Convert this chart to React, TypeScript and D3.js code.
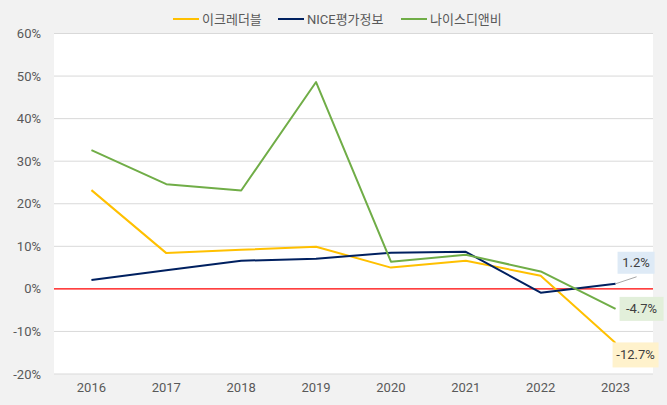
import React from 'react';
import * as d3 from 'd3';

// data
const years = ['2016', '2017', '2018', '2019', '2020', '2021', '2022', '2023'];
const ecredible = [23.2, 8.4, 9.2, 9.9, 5.0, 6.6, 3.1, -12.7];
const niceInfo = [2.1, 4.4, 6.6, 7.1, 8.5, 8.7, -0.9, 1.2];
const niceDnb = [32.6, 24.6, 23.1, 48.6, 6.4, 8.0, 4.1, -4.7];
const yTicks = [-20, -10, 0, 10, 20, 30, 40, 50, 60];

const series = [
  { name: '이크레더블', values: ecredible, color: '#FFC000', box: '#FFF2CC' },
  { name: 'NICE평가정보', values: niceInfo, color: '#002060', box: '#DEEAF6' },
  { name: '나이스디앤비', values: niceDnb, color: '#70AD47', box: '#E2EFDA' },
];

const W = 667;
const H = 405;
const margin = { left: 54, right: 14, top: 33.5, bottom: 31 };
const font = "Roboto, 'Noto Sans CJK KR', sans-serif";

const App = () => {
  const x = d3.scaleBand().domain(years).range([margin.left, W - margin.right]);
  const y = d3.scaleLinear().domain([-20, 60]).range([H - margin.bottom, margin.top]);
  const cx = (yr: string) => (x(yr) || 0) + x.bandwidth() / 2;

  const line = d3.line<number>()
    .x((d, i) => cx(years[i]))
    .y(d => y(d));

  const last = years[years.length - 1];
  const lastX = cx(last);

  // label boxes at the end of each line (offsets by hand)
  const labels = [
    { s: series[0], dx: -3, dy: 12, w: 46, h: 25 },
    { s: series[1], dx: 2, dy: -21, w: 37, h: 22, leader: true },
    { s: series[2], dx: 4, dy: 0, w: 44, h: 24 },
  ];

  return (
    <svg width={W} height={H} style={{ position: 'absolute', left: 0, top: 0, background: '#F2F2F2' }}>
      <rect x={margin.left} y={margin.top} width={W - margin.left - margin.right}
        height={H - margin.top - margin.bottom} fill="#fff" />
      {yTicks.map(t => (
        <g key={t}>
          {t !== 0 && (
            <line x1={margin.left} x2={W - margin.right} y1={y(t)} y2={y(t)} stroke="#D9D9D9" strokeWidth={1} />
          )}
          <text x={margin.left - 13} y={y(t)} dy="0.35em" textAnchor="end" fontFamily={font} fontSize={13} fill="#595959">
            {t}%
          </text>
        </g>
      ))}
      {years.map(yr => (
        <text key={yr} x={cx(yr)} y={H - 13} textAnchor="middle" fontFamily={font} fontSize={13} fill="#595959">
          {yr}
        </text>
      ))}
      <line x1={margin.left} x2={W - margin.right} y1={y(0)} y2={y(0)} stroke="#FF0000" strokeWidth={1.2} />
      {series.map(s => (
        <path key={s.name} d={line(s.values) || ''} fill="none" stroke={s.color} strokeWidth={2} strokeLinejoin="round" />
      ))}
      {labels.map(({ s, dx, dy, w, h, leader }) => {
        const v = s.values[s.values.length - 1];
        const py = y(v);
        const bx = lastX + dx;
        const by = py + dy;
        return (
          <g key={s.name}>
            {leader && <line x1={lastX} y1={py} x2={lastX + 21} y2={py - 7} stroke="#A6A6A6" strokeWidth={1} />}
            <rect x={bx} y={by - h / 2} width={w} height={h} fill={s.box} />
            <text x={bx + w / 2} y={by} dy="0.35em" textAnchor="middle" fontFamily={font} fontSize={13} fill="#404040">
              {v.toFixed(1)}%
            </text>
          </g>
        );
      })}
      {series.map((s, i) => {
        const starts = [173, 278, 401];
        return (
          <g key={s.name}>
            <line x1={starts[i]} x2={starts[i] + 26} y1={19} y2={19} stroke={s.color} strokeWidth={2} />
            <text x={starts[i] + 29} y={19} dy="0.35em" fontFamily={font} fontSize={13} fill="#595959">{s.name}</text>
          </g>
        );
      })}
    </svg>
  );
};

export default App;
